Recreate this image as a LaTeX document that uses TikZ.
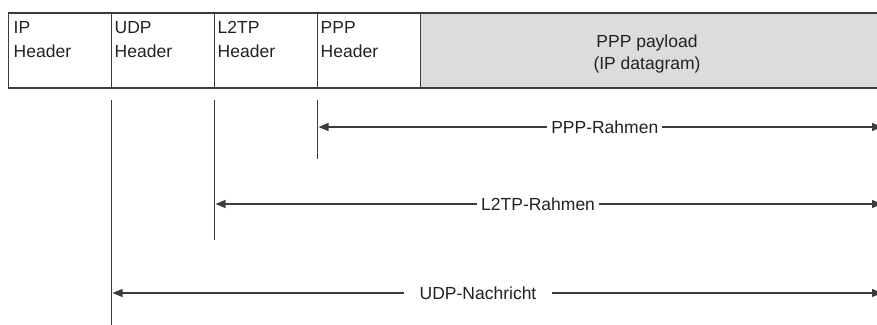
\documentclass[tikz,border=0pt]{standalone}
\usepackage{fontspec}
\setmainfont{Liberation Sans}
\usepackage{tikz}
\usetikzlibrary{arrows.meta, positioning, calc}

\definecolor{framegray}{HTML}{3C3C3C}
\definecolor{payloadgray}{HTML}{DCDCDC}
\definecolor{textgray}{HTML}{222222}

\tikzset{
  field/.style={draw=framegray, line width=1.2pt, minimum width=103pt, minimum height=75pt,
    inner sep=0pt, outer sep=0pt, anchor=north west},
  fieldtext/.style={anchor=north west, align=left, inner sep=0pt, text=textgray},
  marker/.style={framegray, line width=1.3pt},
  span/.style={framegray, line width=1.1pt, {Triangle[length=10pt,width=8pt]}-{Triangle[length=10pt,width=8pt]}},
  spanlabel/.style={fill=white, inner xsep=4pt, inner ysep=1pt, text=textgray}
}

\begin{document}
\begin{tikzpicture}[x=1pt, y=-1pt, font=\fontsize{17.5}{24}\selectfont]
\useasboundingbox (0,0) rectangle (877,324);

% Frame fields
\node[field] (ip) at (8.5,13) {};
\node[field, right=0pt of ip.north east, anchor=north west] (udp) {};
\node[field, right=0pt of udp.north east, anchor=north west] (l2tp) {};
\node[field, right=0pt of l2tp.north east, anchor=north west] (ppp) {};
\node[field, fill=payloadgray, minimum width=470pt, right=0pt of ppp.north east, anchor=north west] (payload) {};

% Field texts
\node[fieldtext] (iptext) at ($(ip.north west)+(5,8)$) {IP\\Header};
\node[fieldtext] (udptext) at ($(udp.north west)+(3,8)$) {UDP\\Header};
\node[fieldtext] (l2tptext) at ($(l2tp.north west)+(3,8)$) {L2TP\\Header};
\node[fieldtext] (ppptext) at ($(ppp.north west)+(3,8)$) {PPP\\Header};
\node[align=center, text=textgray, inner sep=0pt, font=\fontsize{17.5}{22}\selectfont] (payloadtext) at (647,54) {PPP payload\\(IP datagram)};

% Markers below the fields
\coordinate (udpTop) at ($(udp.south west)+(0,12)$);
\coordinate (udpBot) at ($(udp.south west)+(0,245)$);
\coordinate (l2tpTop) at ($(l2tp.south west)+(0,12)$);
\coordinate (l2tpBot) at ($(l2tp.south west)+(0,152)$);
\coordinate (pppTop) at ($(ppp.south west)+(0,12)$);
\coordinate (pppBot) at ($(ppp.south west)+(0,71)$);
\draw[marker] (udpTop) -- (udpBot);
\draw[marker] (l2tpTop) -- (l2tpBot);
\draw[marker] (pppTop) -- (pppBot);

% Spans
\coordinate (pppL) at ($(ppp.south west)+(1,39)$);
\coordinate (pppR) at (pppL -| 882,0);
\coordinate (l2tpL) at ($(l2tp.south west)+(1,116)$);
\coordinate (l2tpR) at (l2tpL -| 882,0);
\coordinate (udpL) at ($(udp.south west)+(1,205)$);
\coordinate (udpR) at (udpL -| 882,0);
\draw[span] (pppL) -- node[spanlabel, pos=0.508] (ppplabel) {PPP-Rahmen} (pppR);
\draw[span] (l2tpL) -- node[spanlabel, pos=0.484] (l2tplabel) {L2TP-Rahmen} (l2tpR);
\draw[span] (udpL) -- node[spanlabel, pos=0.475, inner xsep=16pt] (udplabel) {UDP-Nachricht} (udpR);
\end{tikzpicture}
\end{document}
